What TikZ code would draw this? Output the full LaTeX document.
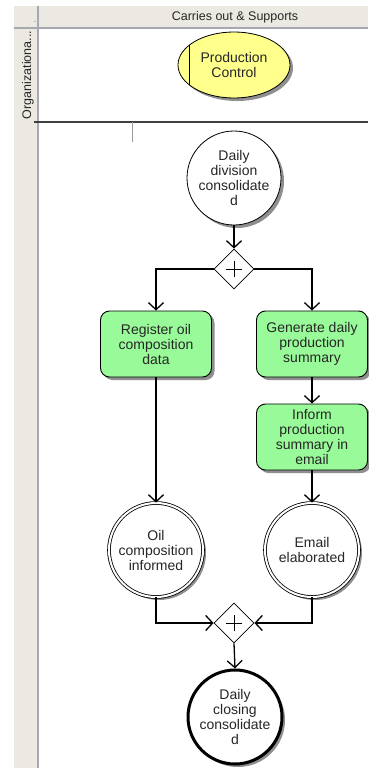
\documentclass[tikz,border=0pt]{standalone}
\usepackage{fontspec}
\setmainfont{Liberation Sans}
\usetikzlibrary{shapes.geometric,arrows.meta,shadows,positioning}
\definecolor{hdrgray}{HTML}{ECE9E2}
\definecolor{lanegray}{HTML}{A8A8B0}
\definecolor{taskgreen}{HTML}{98FA98}
\definecolor{roleyellow}{HTML}{FFFF8C}
\tikzset{
  shd/.style={drop shadow={shadow xshift=3pt,shadow yshift=-3pt,fill=black!55,opacity=0.8}},
  txt/.style={font=\fontsize{14}{15}\selectfont,align=center,text=black!85},
  task/.style={txt,shd,draw=black,line width=0.9pt,fill=taskgreen,rounded corners=9pt,
    minimum width=111pt,minimum height=66pt,inner sep=2pt},
  evt/.style={txt,shd,circle,draw=black,line width=0.8pt,fill=white,minimum size=94pt,inner sep=0pt},
  evtend/.style={evt,draw=black,double=white,double distance=2pt,line width=0.8pt},
  evtfin/.style={evt,line width=3pt},
  gate/.style={diamond,draw=black,line width=0.8pt,fill=white,minimum width=40pt,minimum height=40pt,inner sep=0pt},
  arr/.style={line width=1.3pt,-{Straight Barb[length=7pt,width=15pt,line width=1.3pt]}},
  plain/.style={line width=1.3pt}
}
\newcommand{\plussign}[1]{\draw[line width=0.9pt] ([xshift=-8pt]#1.center) -- ([xshift=8pt]#1.center) ([yshift=-8pt]#1.center) -- ([yshift=8pt]#1.center);}
\begin{document}
\begin{tikzpicture}[x=1pt,y=-1pt]
\useasboundingbox (0,0) rectangle (368,768);
% lane backgrounds
\fill[white] (0,0) rectangle (368,768);
\fill[hdrgray] (14,6) rectangle (368,27);
\fill[hdrgray] (14,6) rectangle (37,768);
\draw[lanegray,line width=1.2pt] (38,6) -- (38,768);
\draw[lanegray,line width=1.5pt] (14,28) -- (368,28);
\draw[black!75,line width=2pt] (34,122) -- (368,122);
\draw[black!40,line width=0.8pt] (132,122) -- (132,142);
\node[font=\fontsize{12.5}{14}\selectfont,text=black!85] (hdr) at (235,17) {Carries out \& Supports};
\node[font=\fontsize{8}{9}\selectfont,text=black!70] (dot) at (35,22) {.};
\node[font=\fontsize{12.5}{14}\selectfont,text=black!85,rotate=90] (org) at (28,75) {Organizationa...};
% role
\node[txt,shd,ellipse,draw=black,line width=0.8pt,fill=roleyellow,minimum width=112pt,minimum height=66pt,inner sep=0pt] (pc) at (234,65) {Production\\Control};
\draw[line width=0.8pt] ([shift={(-45,-19.6)}]pc.center) -- ([shift={(-45,19.6)}]pc.center);
% flow
\node[evt] (dd) at (234,178) {Daily\\division\\consolidate\\d};
\node[gate] (g1) at (234,269) {};
\plussign{g1}
\node[task] (reg) at (156,344) {Register oil\\composition\\data};
\node[task] (gen) at (312,344) {Generate daily\\production\\summary};
\node[task] (inf) at (312,437) {Inform\\production\\summary in\\email};
\node[evtend] (oil) at (156,550) {Oil\\composition\\informed};
\node[evtend] (em) at (312,550) {Email\\elaborated};
\node[gate] (g2) at (234,623) {};
\plussign{g2}
\node[evtfin] (dc) at (235,717) {Daily\\closing\\consolidate\\d};
% connectors
\draw[arr] (dd.south) -- (g1.north);
\draw[arr] (g1.west) -| (reg.north);
\draw[arr] (g1.east) -| (gen.north);
\draw[arr] (reg.south) -- (oil.north);
\draw[arr] (gen.south) -- (inf.north);
\draw[arr] (inf.south) -- (em.north);
\draw[arr] (oil.south) |- (g2.west);
\draw[arr] (em.south) |- (g2.east);
\draw[arr] (g2.south) -- (dc.north);
\end{tikzpicture}
\end{document}
